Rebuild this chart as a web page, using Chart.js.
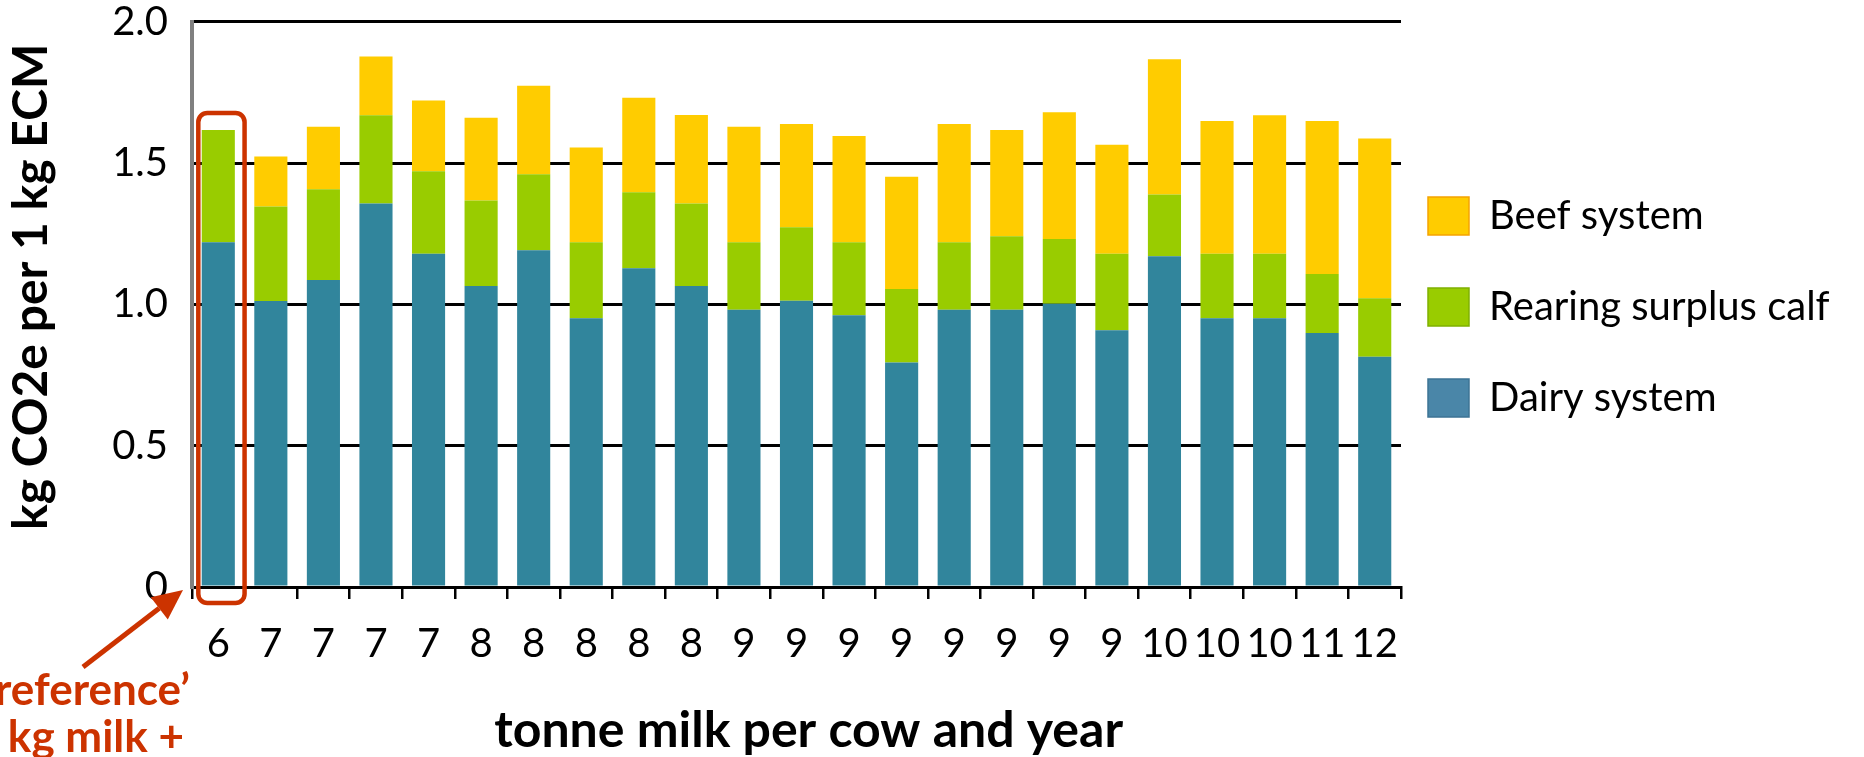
<!DOCTYPE html>
<html>
<head>
<meta charset="utf-8">
<script src="https://cdn.jsdelivr.net/npm/chart.js@4.4.1/dist/chart.umd.min.js"></script>
<style>
  html, body { margin: 0; padding: 0; background: #ffffff; }
  #wrap { width: 1864px; height: 757px; position: relative; }
  canvas { display: block; }
</style>
</head>
<body>
<div id="wrap"><canvas id="chart" width="1864" height="757"></canvas></div>
<script>
// Milk yield class of each farm (tonne per cow and year)
const milkYield = ['6', '7', '7', '7', '7', '8', '8', '8', '8', '8', '9', '9', '9', '9', '9', '9', '9', '9', '10', '10', '10', '11', '12'];

// Emissions in kg CO2e per 1 kg ECM, split by source
const dairySystem = [1.220, 1.012, 1.086, 1.357, 1.179, 1.065, 1.191, 0.951, 1.128, 1.065, 0.981, 1.013, 0.961, 0.794, 0.981, 0.981, 1.002, 0.908, 1.170, 0.951, 0.951, 0.899, 0.815];
const rearingCalf = [0.397, 0.334, 0.321, 0.312, 0.292, 0.302, 0.269, 0.269, 0.269, 0.292, 0.239, 0.260, 0.259, 0.260, 0.239, 0.260, 0.229, 0.271, 0.219, 0.228, 0.228, 0.208, 0.207];
const beefSystem  = [0.000, 0.177, 0.221, 0.208, 0.250, 0.293, 0.313, 0.335, 0.334, 0.313, 0.408, 0.365, 0.376, 0.397, 0.418, 0.376, 0.449, 0.386, 0.478, 0.470, 0.490, 0.542, 0.565];

const yTickLabels = ['0', '0.5', '1.0', '1.5', '2.0'];

const seriesNames = ['Dairy system', 'Rearing surplus calf', 'Beef system'];
const barColors = ['#31859C', '#99CC00', '#FFCC00'];
const keyFills = ['#4A86A8', '#99CC00', '#FFCC00'];
const keyStrokes = ['#3D7394', '#7FB000', '#F5A300'];
const markerColor = '#CC3300';

const fontFamily = 'Lato';
Chart.defaults.font.family = fontFamily;
Chart.defaults.color = '#000000';

// Legend geometry: the key column sits right of the plot
const legendFontSize = 40;
const legendBox = 41;
const legendGap = 27;
const legendColumnWidth = 463;

const probe = document.createElement('canvas').getContext('2d');
probe.font = legendFontSize + 'px ' + fontFamily;
const longestKey = Math.max(...seriesNames.map(s => probe.measureText(s).width));
const legendNaturalWidth = legendGap + legendBox + legendFontSize / 2 + longestKey + 10;
const rightPad = Math.max(0, legendColumnWidth - legendNaturalWidth);

// Red frame around the reference farm, with arrow and note
const referenceMarker = {
  id: 'referenceMarker',
  afterDraw(chart) {
    const { ctx, scales: { x, y } } = chart;
    const xc = x.getPixelForValue(0);
    const half = (x.getPixelForValue(1) - xc) / 2;
    const total = dairySystem[0] + rearingCalf[0] + beefSystem[0];
    const left = xc - half * 0.76;
    const right = xc + half;
    const top = y.getPixelForValue(total) - 17;
    const bottom = y.getPixelForValue(0) + 16;
    const r = 9;

    ctx.save();
    ctx.strokeStyle = markerColor;
    ctx.lineWidth = 4.5;
    ctx.beginPath();
    ctx.moveTo(left + r, top);
    ctx.lineTo(right - r, top);
    ctx.arcTo(right, top, right, top + r, r);
    ctx.lineTo(right, bottom - r);
    ctx.arcTo(right, bottom, right - r, bottom, r);
    ctx.lineTo(left + r, bottom);
    ctx.arcTo(left, bottom, left, bottom - r, r);
    ctx.lineTo(left, top + r);
    ctx.arcTo(left, top, left + r, top, r);
    ctx.closePath();
    ctx.stroke();

    // arrow pointing at the origin of the axes
    const tipX = x.left - 9, tipY = y.getPixelForValue(0) + 3;
    const tailX = 83, tailY = 667;
    const ang = Math.atan2(tipY - tailY, tipX - tailX);
    const headLen = 30, headW = 14;
    const bx = tipX - headLen * Math.cos(ang), by = tipY - headLen * Math.sin(ang);
    ctx.lineWidth = 5;
    ctx.beginPath();
    ctx.moveTo(tailX, tailY);
    ctx.lineTo(bx, by);
    ctx.stroke();
    ctx.fillStyle = markerColor;
    ctx.beginPath();
    ctx.moveTo(tipX, tipY);
    ctx.lineTo(bx + headW * Math.sin(ang), by - headW * Math.cos(ang));
    ctx.lineTo(bx - headW * Math.sin(ang), by + headW * Math.cos(ang));
    ctx.closePath();
    ctx.fill();

    ctx.font = 'bold 44px ' + fontFamily;
    ctx.textAlign = 'right';
    ctx.textBaseline = 'alphabetic';
    ctx.fillText('\u2018reference\u2019', 190, 705);
    ctx.fillText('kg milk +', 184, 752);
    ctx.restore();
  }
};

const seriesData = [dairySystem, rearingCalf, beefSystem];

new Chart(document.getElementById('chart'), {
  type: 'bar',
  data: {
    labels: milkYield,
    datasets: seriesData.map((d, i) => ({
      label: seriesNames[i],
      data: d,
      backgroundColor: barColors[i],
      borderWidth: 0
    }))
  },
  options: {
    responsive: false,
    animation: false,
    events: [],
    layout: { padding: { top: 0, right: rightPad } },
    datasets: { bar: { categoryPercentage: 1.0, barPercentage: 0.63 } },
    plugins: {
      tooltip: { enabled: false },
      legend: {
        position: 'right',
        align: 'start',
        maxWidth: legendColumnWidth,
        title: { display: true, text: ' ', font: { size: 10, lineHeight: 1.2 }, padding: { top: 0, bottom: 157 } },
        labels: {
          boxWidth: legendBox,
          boxHeight: 38,
          padding: legendGap,
          color: '#000000',
          font: { size: legendFontSize, lineHeight: 64 / legendFontSize },
          generateLabels(chart) {
            return chart.data.datasets.map((ds, i) => ({
              text: [ds.label],
              fillStyle: keyFills[i],
              strokeStyle: keyStrokes[i],
              lineWidth: 1.5,
              fontColor: '#000000',
              hidden: false,
              datasetIndex: i
            })).reverse();
          }
        }
      }
    },
    scales: {
      x: {
        stacked: true,
        grid: { display: true, drawOnChartArea: false, drawTicks: true, tickLength: 12, color: '#000000', lineWidth: 2.5 },
        border: { display: true, color: '#000000', width: 3 },
        ticks: { color: '#000000', font: { size: 40 }, padding: 21, maxRotation: 0, autoSkip: false },
        title: { display: true, text: '  tonne milk per cow and year', color: '#000000', font: { size: 50, weight: 'bold', lineHeight: 1.0 }, padding: { top: 0, bottom: 1 } },
        afterFit(scale) { scale.height = 170; }
      },
      y: {
        stacked: true,
        min: 0,
        max: 2,
        ticks: { stepSize: 0.5, color: '#000000', font: { size: 40, lineHeight: 1.085 }, padding: 0, callback: (v, i) => yTickLabels[i] },
        grid: { color: '#000000', lineWidth: 3, drawTicks: true, tickLength: 24, tickColor: 'rgba(0,0,0,0)' },
        border: { display: true, color: '#808080', width: 4 },
        title: { display: true, text: '   kg CO2e per 1 kg ECM', color: '#000000', font: { size: 48, weight: 'bold', lineHeight: 1.2 }, padding: { top: 3, bottom: 0 } },
        afterFit(scale) { scale.width = 192; }
      }
    }
  },
  plugins: [referenceMarker]
});
</script>
</body>
</html>
